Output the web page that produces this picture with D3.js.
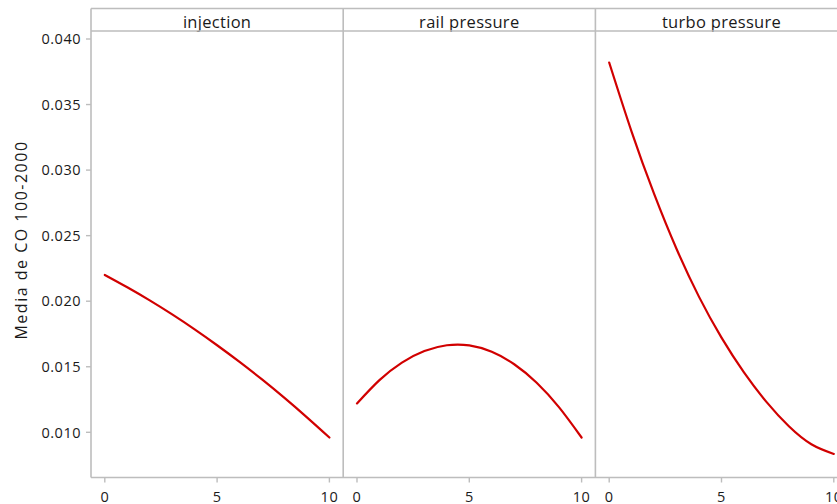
<!DOCTYPE html>
<html>
<head>
<meta charset="utf-8">
<script src="https://cdn.jsdelivr.net/npm/d3@7"></script>
<style>
  body { margin: 0; background: #fff; }
  svg { display: block; }
  text { font-family: "Open Sans", "Noto Sans", sans-serif; fill: #1a1a1a; }
</style>
</head>
<body>
<svg id="chart" width="837" height="504"></svg>
<script>
// Panel titles (factors) and the factor levels on the x axis
const panels = ["injection", "rail pressure", "turbo pressure"];
const xLevels = [0, 1, 2, 3, 4, 5, 6, 7, 8, 9, 10];

// Fitted mean CO response for each factor
const injection     = [0.02200, 0.02106, 0.02006, 0.01899, 0.01785, 0.01664, 0.01537, 0.01403, 0.01262, 0.01114, 0.00960];
const railPressure  = [0.01220, 0.01398, 0.01532, 0.01620, 0.01664, 0.01663, 0.01614, 0.01519, 0.01378, 0.01190, 0.00960];
const turboPressure = [0.03820, 0.03292, 0.02818, 0.02398, 0.02033, 0.01722, 0.01457, 0.01232, 0.01046, 0.00909, 0.00835];

const yTicks = [0.010, 0.015, 0.020, 0.025, 0.030, 0.035, 0.040];
const xTicks = [0, 5, 10];
const yTitle = "Media de CO 100-2000";

const series = [injection, railPressure, turboPressure];

// Geometry
const frameLeft = 91, frameTop = 8.5, stripBottom = 31, frameBottom = 477.5;
const panelW = 252.2, pad = 13.8;
const frameColor = "#bdbdbd";
const lineColor = "#d10000";

const svg = d3.select("#chart");

const y = d3.scaleLinear().domain([0.010, 0.040]).range([432.3, 39]);

// Y axis ticks and labels
const yAxis = svg.append("g");
yAxis.selectAll("line").data(yTicks).join("line")
  .attr("x1", frameLeft - 5).attr("x2", frameLeft)
  .attr("y1", d => y(d)).attr("y2", d => y(d))
  .attr("stroke", frameColor).attr("stroke-width", 1.4);
yAxis.selectAll("text").data(yTicks).join("text")
  .attr("x", frameLeft - 10).attr("y", d => y(d))
  .attr("dy", "0.36em")
  .attr("text-anchor", "end")
  .style("font-size", "14.5px")
  .style("letter-spacing", "0.5px")
  .text(d => d3.format(".3f")(d));

// Y axis title
svg.append("text")
  .attr("transform", "translate(27,240) rotate(-90)")
  .attr("text-anchor", "middle")
  .style("font-size", "16px")
  .style("letter-spacing", "1.5px")
  .text(yTitle);

panels.forEach((name, i) => {
  const x0 = frameLeft + i * panelW;
  const x = d3.scaleLinear().domain([0, 10]).range([x0 + pad, x0 + panelW - pad]);
  const g = svg.append("g");

  // Strip title
  g.append("text")
    .attr("x", x0 + panelW / 2).attr("y", stripBottom - 3.5)
    .attr("text-anchor", "middle")
    .style("font-size", "16.5px")
    .style("letter-spacing", "0.3px")
    .text(name);

  // X ticks and labels
  g.selectAll("line.xt").data(xTicks).join("line")
    .attr("class", "xt")
    .attr("x1", d => x(d)).attr("x2", d => x(d))
    .attr("y1", frameBottom).attr("y2", frameBottom + 5)
    .attr("stroke", frameColor).attr("stroke-width", 1.4);
  g.selectAll("text.xl").data(xTicks).join("text")
    .attr("class", "xl")
    .attr("x", d => x(d)).attr("y", 501.5)
    .attr("text-anchor", "middle")
    .style("font-size", "14.5px")
    .style("letter-spacing", "0.5px")
    .text(d => d);

  // Response curve
  const line = d3.line()
    .x((d, j) => x(xLevels[j]))
    .y(d => y(d))
    .curve(d3.curveNatural);
  g.append("path")
    .datum(series[i])
    .attr("d", line)
    .attr("fill", "none")
    .attr("stroke", lineColor)
    .attr("stroke-width", 2.2)
    .attr("stroke-linecap", "round");
});

// Panel frame: outer box, strip separator and panel dividers
const frame = svg.append("g").attr("stroke", frameColor).attr("stroke-width", 1.6).attr("fill", "none");
const frameRight = frameLeft + panels.length * panelW;
frame.append("line").attr("x1", frameLeft).attr("x2", frameRight).attr("y1", frameTop).attr("y2", frameTop);
frame.append("line").attr("x1", frameLeft).attr("x2", frameRight).attr("y1", stripBottom).attr("y2", stripBottom);
frame.append("line").attr("x1", frameLeft).attr("x2", frameRight).attr("y1", frameBottom).attr("y2", frameBottom);
frame.selectAll("line.v").data(d3.range(panels.length + 1)).join("line")
  .attr("class", "v")
  .attr("x1", d => frameLeft + d * panelW).attr("x2", d => frameLeft + d * panelW)
  .attr("y1", frameTop).attr("y2", frameBottom);
</script>
</body>
</html>
